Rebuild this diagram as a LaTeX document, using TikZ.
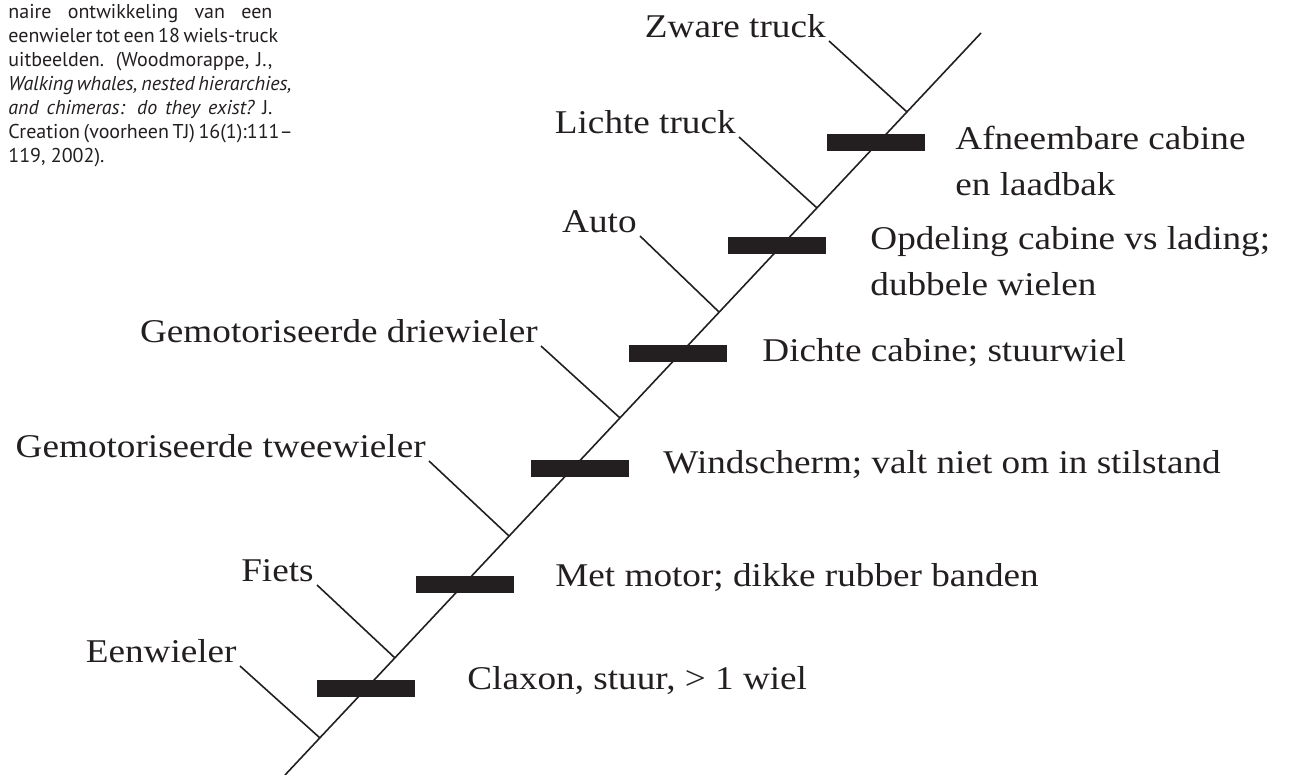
\documentclass[tikz,border=0pt]{standalone}
\usepackage{fontspec}
\setmainfont{Liberation Serif}[FakeStretch=1.12]
\newfontfamily\notefont{PT Sans}
\usepackage{xcolor}
\usepackage{tikz}

\definecolor{ink}{RGB}{35,31,32}
\newcommand{\noteline}[1]{\makebox[132pt][s]{#1}}

\tikzset{
  twig/.style={line width=0.8pt, draw=ink},
  trait/.style={fill=ink, inner sep=0pt, minimum width=49pt, minimum height=8.5pt},
  taxon/.style={anchor=south east, inner sep=1.5pt, text=ink},
  change/.style={anchor=base west, inner sep=0pt, text=ink, align=left},
}

\begin{document}
\begin{tikzpicture}[x=0.5pt, y=-0.5pt, font=\fontsize{16.6}{23}\selectfont]
  \useasboundingbox (0,0) rectangle (1294,775);

  % caption fragment, top left
  \node[anchor=north west, inner sep=0pt, align=left, text=ink,
        font=\notefont\fontsize{10}{12}\selectfont] (note) at (8,4)
    {\noteline{naire ontwikkeling van een}\\
     \noteline{eenwieler tot een 18 wiels-truck}\\
     \noteline{uitbeelden. (Woodmorappe, J.,}\\
     \noteline{\itshape Walking whales, nested hierarchies,}\\
     \noteline{\itshape and chimeras: do they exist?\upshape\ J.}\\
     \noteline{Creation (voorheen TJ) 16(1):111–}\\
     119, 2002).};

  % main stem
  \coordinate (root) at (285,775);
  \coordinate (tip) at (981,33);
  \draw[twig] (root) -- (tip);

  \coordinate (j1) at (320,738);
  \coordinate (j2) at (395,658);
  \coordinate (j3) at (509,536);
  \coordinate (j4) at (620,418);
  \coordinate (j5) at (719,312);
  \coordinate (j6) at (817,208);
  \coordinate (j7) at (907,112);

  % side branches
  \node[taxon] (eenw) at (240,666) {Eenwieler};
  \node[taxon] (fiets) at (317,585) {Fiets};
  \node[taxon] (twee) at (429,461) {Gemotoriseerde tweewieler};
  \node[taxon] (drie) at (541,346) {Gemotoriseerde driewieler};
  \node[taxon] (auto) at (640,236) {Auto};
  \node[taxon] (licht) at (739,137) {Lichte truck};
  \node[taxon] (zwaar) at (829,41) {Zware truck};

  \draw[twig] (eenw.south east) -- (j1);
  \draw[twig] (fiets.south east) -- (j2);
  \draw[twig] (twee.south east) -- (j3);
  \draw[twig] (drie.south east) -- (j4);
  \draw[twig] (auto.south east) -- (j5);
  \draw[twig] (licht.south east) -- (j6);
  \draw[twig] (zwaar.south east) -- (j7);

  % new features
  \node[trait] (b1) at (366,688) {};
  \node[trait] (b2) at (465,584) {};
  \node[trait] (b3) at (580,468) {};
  \node[trait] (b4) at (678,353) {};
  \node[trait] (b5) at (777,245) {};
  \node[trait] (b6) at (876,143) {};

  \node[change] (c1) at (467,689) {Claxon, stuur, > 1 wiel};
  \node[change] (c2) at (555,586) {Met motor; dikke rubber banden};
  \node[change] (c3) at (663,473) {Windscherm; valt niet om in stilstand};
  \node[change] (c4) at (762,361) {Dichte cabine; stuurwiel};
  \node[change] (c5) at (870,295) {Opdeling cabine vs lading;\\ dubbele wielen};
  \node[change] (c6) at (955,196) {Afneembare cabine\\ en laadbak};
\end{tikzpicture}
\end{document}
